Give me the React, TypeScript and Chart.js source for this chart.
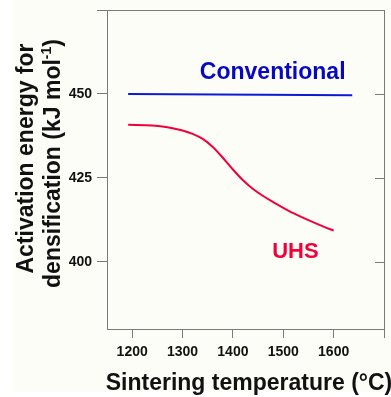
import React, { useEffect, useRef } from "react";
import { Chart, registerables } from "chart.js";

Chart.register(...registerables);

const xTicks = [1200, 1300, 1400, 1500, 1600, 1700];
const yTicks = [400, 425, 450, 475];
const rightTicks = [400, 425, 450];

const conventionalX = [1192, 1637];
const conventionalY = [450, 449.6];

const uhsX = [1192, 1240, 1270, 1300, 1320, 1340, 1360, 1380, 1400, 1420, 1440, 1460, 1480, 1500, 1520, 1550, 1580, 1600];
const uhsY = [440.8, 440.6, 440.1, 439.1, 438.1, 436.6, 434.2, 431.0, 427.5, 424.3, 421.7, 419.6, 417.8, 416.1, 414.5, 412.4, 410.5, 409.3];

const xTitle = "Sintering temperature (°C)";
const yTitle1 = "Activation energy for";
const yTitle2a = "densification (kJ mol";
const yTitle2sup = "-1";
const yTitle2b = ")";

const FONT = '"Liberation Sans", Arial, sans-serif';
const AXIS = "#7a7a7a";
const BLUE = "#0c1ad6";
const BLUE_TEXT = "#0808c4";
const RED = "#f2003c";

const framePlugin = {
  id: "frame",
  beforeDraw(chart: any) {
    const ctx = chart.ctx;
    ctx.save();
    ctx.fillStyle = "#ffffff";
    ctx.fillRect(0, 0, chart.width, chart.height);
    ctx.fillStyle = "#fdfdf8";
    ctx.fillRect(13, 0, chart.width - 13, 392);
    ctx.restore();
  },
  afterDraw(chart: any) {
    const ctx = chart.ctx;
    const { top, bottom, left, right } = chart.chartArea;
    const x = chart.scales.x;
    const y = chart.scales.y;
    ctx.save();
    ctx.strokeStyle = AXIS;
    ctx.lineWidth = 1;
    ctx.beginPath();
    ctx.moveTo(left, Math.round(top) + 0.5);
    ctx.lineTo(right, Math.round(top) + 0.5);
    ctx.moveTo(Math.round(right) + 0.5, top);
    ctx.lineTo(Math.round(right) + 0.5, bottom);
    for (const v of rightTicks) {
      const py = Math.round(y.getPixelForValue(v)) + 0.5;
      ctx.moveTo(right - 9, py);
      ctx.lineTo(right, py);
    }
    ctx.stroke();

    // series labels
    ctx.font = `bold 23px ${FONT}`;
    ctx.textAlign = "center";
    ctx.textBaseline = "alphabetic";
    ctx.fillStyle = BLUE_TEXT;
    ctx.fillText("Conventional", x.getPixelForValue(1479), y.getPixelForValue(454.4));
    ctx.font = `bold 22px ${FONT}`;
    ctx.fillStyle = RED;
    ctx.fillText("UHS", x.getPixelForValue(1524), y.getPixelForValue(401));

    // x title
    ctx.fillStyle = "#111111";
    ctx.font = `bold 23px ${FONT}`;
    ctx.fillText(xTitle, 249, 390);

    // y title line 1
    ctx.save();
    ctx.translate(33, 158.5);
    ctx.rotate(-Math.PI / 2);
    ctx.textAlign = "center";
    ctx.fillText(yTitle1, 0, 0);
    ctx.restore();

    // y title line 2 with superscript
    ctx.save();
    ctx.translate(60, 163.5);
    ctx.rotate(-Math.PI / 2);
    ctx.textAlign = "left";
    const big = `bold 23px ${FONT}`;
    const small = `bold 14px ${FONT}`;
    ctx.font = big;
    const wa = ctx.measureText(yTitle2a).width;
    const wb = ctx.measureText(yTitle2b).width;
    ctx.font = small;
    const ws = ctx.measureText(yTitle2sup).width;
    const total = wa + ws + wb;
    let cx = -total / 2;
    ctx.font = big;
    ctx.fillText(yTitle2a, cx, 0);
    cx += wa;
    ctx.font = small;
    ctx.fillText(yTitle2sup, cx, -9);
    cx += ws;
    ctx.font = big;
    ctx.fillText(yTitle2b, cx, 0);
    ctx.restore();

    ctx.restore();
  },
};

export default function App() {
  const ref = useRef<HTMLCanvasElement | null>(null);
  useEffect(() => {
    document.body.style.margin = "0";
    if (!ref.current) return;
    const chart = new Chart(ref.current, {
      type: "scatter",
      data: {
        datasets: [
          {
            label: "Conventional",
            data: conventionalX.map((v, i) => ({ x: v, y: conventionalY[i] })),
            showLine: true,
            borderColor: BLUE,
            borderWidth: 2,
            pointRadius: 0,
          },
          {
            label: "UHS",
            data: uhsX.map((v, i) => ({ x: v, y: uhsY[i] })),
            showLine: true,
            borderColor: RED,
            borderWidth: 2,
            pointRadius: 0,
            cubicInterpolationMode: "monotone",
          },
        ],
      },
      options: {
        animation: false,
        responsive: true,
        maintainAspectRatio: false,
        layout: { padding: { top: 10, right: 7, left: 0, bottom: 0 } },
        plugins: {
          legend: { display: false },
          tooltip: { enabled: false },
        },
        scales: {
          x: {
            type: "linear",
            min: 1150,
            max: 1700,
            afterBuildTicks: (s: any) => {
              s.ticks = xTicks.map((v) => ({ value: v }));
            },
            afterFit: (s: any) => {
              s.height = 68;
              s.paddingLeft = 0;
              s.paddingRight = 0;
            },
            ticks: {
              callback: (v: any) => (v === 1700 ? "" : String(v)),
              font: { family: FONT, size: 14, weight: "bold" },
              color: "#111111",
              padding: 6,
              maxRotation: 0,
              autoSkip: false,
            },
            grid: {
              display: true,
              drawOnChartArea: false,
              drawTicks: true,
              tickLength: 9,
              color: AXIS,
              lineWidth: 1,
            },
            border: { display: true, color: AXIS, width: 1 },
          },
          y: {
            type: "linear",
            min: 380,
            max: 475,
            afterBuildTicks: (s: any) => {
              s.ticks = yTicks.map((v) => ({ value: v }));
            },
            afterFit: (s: any) => {
              s.width = 107;
              s.paddingTop = 0;
              s.paddingBottom = 0;
            },
            ticks: {
              callback: (v: any) => (v === 475 ? "" : String(v)),
              font: { family: FONT, size: 14, weight: "bold" },
              color: "#111111",
              padding: 5,
              autoSkip: false,
            },
            grid: {
              display: true,
              drawOnChartArea: false,
              drawTicks: true,
              tickLength: 10,
              color: AXIS,
              lineWidth: 1,
            },
            border: { display: true, color: AXIS, width: 1 },
          },
        },
      },
      plugins: [framePlugin],
    } as any);
    return () => chart.destroy();
  }, []);
  return (
    <div style={{ width: 391, height: 397, position: "relative" }}>
      <canvas ref={ref} />
    </div>
  );
}
